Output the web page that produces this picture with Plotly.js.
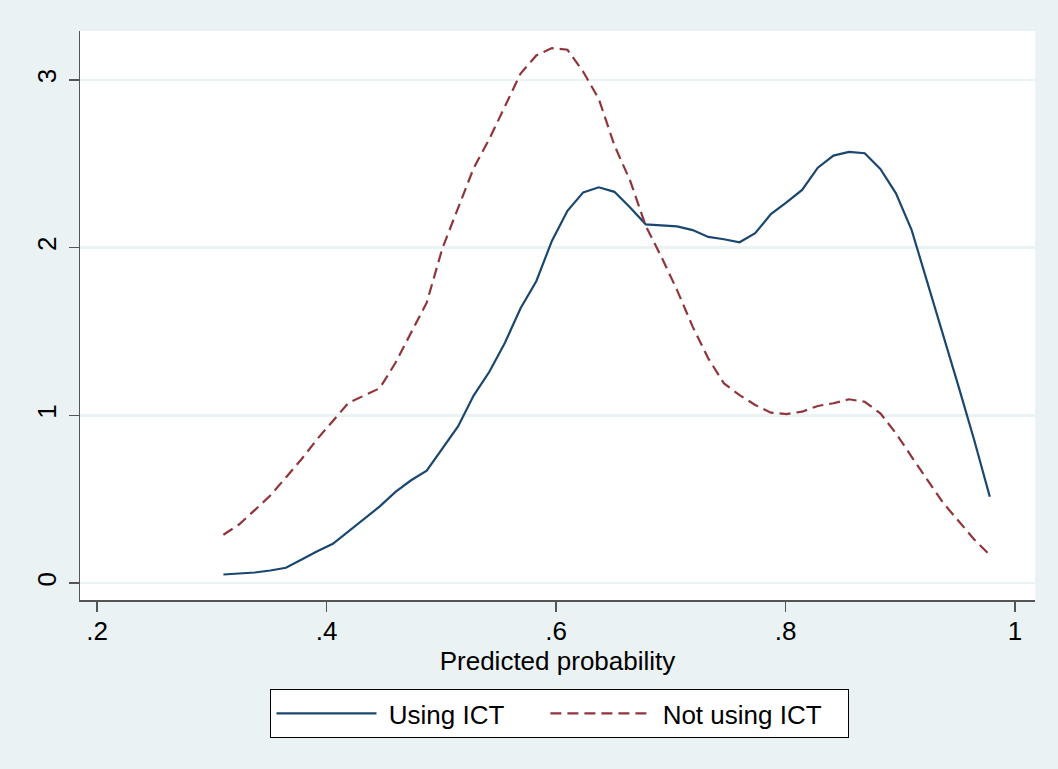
<!DOCTYPE html>
<html>
<head>
<meta charset="utf-8">
<script src="https://cdn.plot.ly/plotly-3.0.1.min.js"></script>
<style>html,body{margin:0;padding:0;background:#eaf2f3;}#chart{width:1058px;height:769px;}</style>
</head>
<body>
<div id="chart"></div>
<script>
// Evaluation grid (predicted probability), 50 points
var gridX = [0.310,0.3236,0.3373,0.3509,0.3645,0.3782,0.3918,0.4054,0.4191,0.4327,
             0.4463,0.4600,0.4736,0.4872,0.5009,0.5145,0.5281,0.5418,0.5554,0.5690,
             0.5827,0.5963,0.6099,0.6236,0.6372,0.6508,0.6645,0.6781,0.6917,0.7054,
             0.7190,0.7326,0.7463,0.7599,0.7735,0.7872,0.8008,0.8144,0.8281,0.8417,
             0.8553,0.8690,0.8826,0.8962,0.9099,0.9235,0.9371,0.9508,0.9644,0.978];
// Density: Using ICT
var usingICT = [0.051,0.058,0.063,0.075,0.091,0.14,0.19,0.234,0.31,0.385,
                0.457,0.544,0.613,0.670,0.804,0.934,1.118,1.26,1.433,1.639,
                1.80,2.04,2.22,2.33,2.36,2.333,2.24,2.139,2.133,2.127,
                2.105,2.064,2.05,2.032,2.086,2.20,2.27,2.344,2.477,2.549,
                2.571,2.563,2.469,2.324,2.105,1.797,1.489,1.171,0.853,0.515];
// Density: Not using ICT
var notUsingICT = [0.288,0.349,0.435,0.522,0.63,0.74,0.859,0.966,1.075,1.118,
                   1.162,1.314,1.498,1.672,1.997,2.235,2.474,2.648,2.842,3.038,
                   3.146,3.19,3.18,3.049,2.887,2.61,2.40,2.13,1.946,1.747,
                   1.529,1.34,1.19,1.121,1.062,1.016,1.008,1.022,1.056,1.072,
                   1.096,1.081,1.012,0.893,0.753,0.614,0.48,0.37,0.26,0.167];
var xTicks = [0.2,0.4,0.6,0.8,1];
var xTickText = ['.2','.4','.6','.8','1'];
var yTicks = [0,1,2,3];
var yTickText = ['0','1','2','3'];
var NB = '\u00a0';
var seriesNames = [NB + 'Using ICT' + NB+NB+NB+NB+NB, NB + 'Not using ICT' + NB+NB+NB];

var font = {family:'"Liberation Sans", Arial, sans-serif', size:26, color:'#000'};

var traces = [
  {x:gridX, y:usingICT, type:'scatter', mode:'lines', name:seriesNames[0],
   line:{color:'#1a476f', width:2.2}},
  {x:gridX, y:notUsingICT, type:'scatter', mode:'lines', name:seriesNames[1],
   line:{color:'#90353b', width:2.2, dash:'11px,6px'}}
];

var layout = {
  width:1058, height:769,
  paper_bgcolor:'#eaf2f3', plot_bgcolor:'#ffffff',
  margin:{l:80, r:23, t:31, b:169},
  font:font,
  showlegend:true,
  xaxis:{range:[0.185,1.0174], tickvals:xTicks, ticktext:xTickText,
    showgrid:false, zeroline:false, showline:true, linecolor:'#555', linewidth:1.5,
    ticks:'outside', ticklen:10, tickcolor:'#555', tickwidth:1.5,
    tickfont:font, ticklabelstandoff:-3,
    title:{text:'Predicted probability', font:font, standoff:0}},
  yaxis:{range:[-0.101,3.292], tickvals:yTicks, ticktext:yTickText,
    showgrid:true, gridcolor:'#eaf2f3', gridwidth:2.5, zeroline:false,
    showline:true, linecolor:'#555', linewidth:1.5,
    ticks:'outside', ticklen:10, tickcolor:'#555', tickwidth:1.5,
    tickangle:-90, tickfont:font, ticklabelstandoff:2},
  legend:{orientation:'h', x:0.5026, xanchor:'center', y:-0.1564, yanchor:'top',
    bgcolor:'#ffffff', bordercolor:'#000', borderwidth:1,
    font:font, itemwidth:100, traceorder:'normal'}
};

Plotly.newPlot('chart', traces, layout, {displayModeBar:false, staticPlot:true});
</script>
</body>
</html>
